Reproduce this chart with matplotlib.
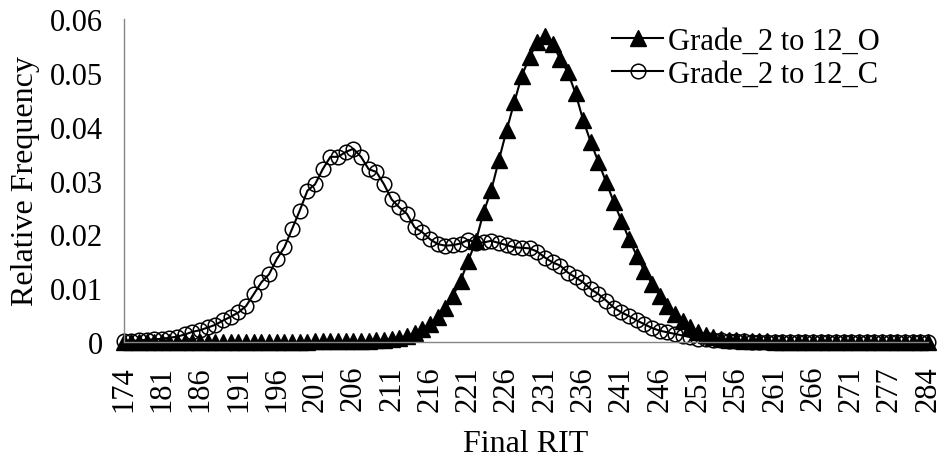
import matplotlib
matplotlib.use("Agg")
import matplotlib.pyplot as plt

plt.rcParams["font.family"] = ["Liberation Serif", "DejaVu Serif"]

# Final RIT categories (a few scores have no observations and are skipped)
rit = ([174, 175, 177, 179, 180] + list(range(181, 272))
       + [272, 273, 274, 275, 277, 278, 279, 281, 282, 284])

freq_open = [
    0.0, 0.0, 0.0, 0.0, 0.0, 0.0, 0.0, 0.0, 0.0, 0.0,
    0.0, 0.0, 0.0, 0.0, 0.0, 0.0, 0.0, 0.0, 0.0, 0.0,
    0.0, 0.0, 0.0, 0.0, 0.0, 0.0001, 0.0001, 0.0001, 0.0001, 0.0001,
    0.0001, 0.0002, 0.0002, 0.0003, 0.0004, 0.0006, 0.0008, 0.0011, 0.0017, 0.0025,
    0.0034, 0.0046, 0.0063, 0.0086, 0.0114, 0.0151, 0.0188, 0.0241, 0.0282, 0.0338,
    0.0393, 0.0445, 0.0495, 0.0529, 0.0557, 0.0569, 0.0554, 0.0526, 0.0501, 0.0462,
    0.0412, 0.0371, 0.0334, 0.0297, 0.0260, 0.0225, 0.0191, 0.0160, 0.0132, 0.0108,
    0.0086, 0.0067, 0.0052, 0.0039, 0.0027, 0.0019, 0.0013, 0.0009, 0.0006, 0.0004,
    0.0003, 0.0002, 0.0002, 0.0001, 0.0001, 0.0, 0.0, 0.0, 0.0, 0.0,
    0.0, 0.0, 0.0, 0.0, 0.0, 0.0, 0.0, 0.0, 0.0, 0.0,
    0.0, 0.0, 0.0, 0.0, 0.0, 0.0,
]

freq_closed = [
    0.0002, 0.0002, 0.0003, 0.0004, 0.0005, 0.0006, 0.0008, 0.0010, 0.0014, 0.0019,
    0.0022, 0.0027, 0.0032, 0.0040, 0.0047, 0.0055, 0.0067, 0.0089, 0.0111, 0.0126,
    0.0154, 0.0176, 0.0210, 0.0244, 0.0281, 0.0293, 0.0321, 0.0344, 0.0344, 0.0353,
    0.0359, 0.0344, 0.0321, 0.0316, 0.0293, 0.0265, 0.0250, 0.0238, 0.0213, 0.0204,
    0.0191, 0.0182, 0.0179, 0.0180, 0.0183, 0.0190, 0.0184, 0.0185, 0.0188, 0.0184,
    0.0180, 0.0176, 0.0175, 0.0174, 0.0168, 0.0157, 0.0148, 0.0142, 0.0129, 0.0120,
    0.0111, 0.0098, 0.0089, 0.0077, 0.0064, 0.0055, 0.0048, 0.0040, 0.0033, 0.0026,
    0.0021, 0.0018, 0.0015, 0.0012, 0.0009, 0.0006, 0.0005, 0.0004, 0.0003, 0.0002,
    0.0002, 0.0001, 0.0, 0.0, 0.0, 0.0, 0.0, 0.0, 0.0, 0.0,
    0.0, 0.0, 0.0, 0.0, 0.0, 0.0, 0.0, 0.0, 0.0, 0.0,
    0.0, 0.0, 0.0, 0.0, 0.0, 0.0,
]

series_names = ["Grade_2 to 12_O", "Grade_2 to 12_C"]
y_ticks = [0, 0.01, 0.02, 0.03, 0.04, 0.05, 0.06]
y_tick_labels = ["0", "0.01", "0.02", "0.03", "0.04", "0.05", "0.06"]

fig = plt.figure(figsize=(9.43, 4.6), dpi=100)
ax = fig.add_axes([0.131, 0.2543, 0.853, 0.7022])

pos = list(range(len(rit)))
ax.plot(pos, freq_open, color="black", lw=1.5, marker="^", ms=12,
        mfc="black", mec="black", clip_on=False, label=series_names[0])
ax.plot(pos, freq_closed, color="black", lw=1.5, marker="o", ms=10.5,
        mfc="none", mec="black", mew=1.1, clip_on=False, label=series_names[1])

ax.set_xlim(0, len(rit) - 1)
ax.set_ylim(0, 0.06)
ax.set_yticks(y_ticks)
ax.set_yticklabels(y_tick_labels, fontsize=22)
ax.set_xticks(pos[::5])
ax.set_xticklabels([str(r) for r in rit[::5]], rotation=90, fontsize=22)
ax.tick_params(axis="both", length=0)
ax.tick_params(axis="y", pad=15)
ax.tick_params(axis="x", pad=16.5)

for side in ["top", "right"]:
    ax.spines[side].set_visible(False)
for side in ["left", "bottom"]:
    ax.spines[side].set_color("#868686")
    ax.spines[side].set_linewidth(1.0)

ax.set_xlabel("Final RIT", fontsize=23, labelpad=13)
ax.set_ylabel("Relative Frequency", fontsize=23, labelpad=7)

fig.legend(loc="upper left", bbox_to_anchor=(0.649, 0.94), frameon=False,
           fontsize=22, handlelength=1.67, handletextpad=0.15,
           labelspacing=0.13, borderpad=0, borderaxespad=0)

fig.savefig("out.png", dpi=100)
